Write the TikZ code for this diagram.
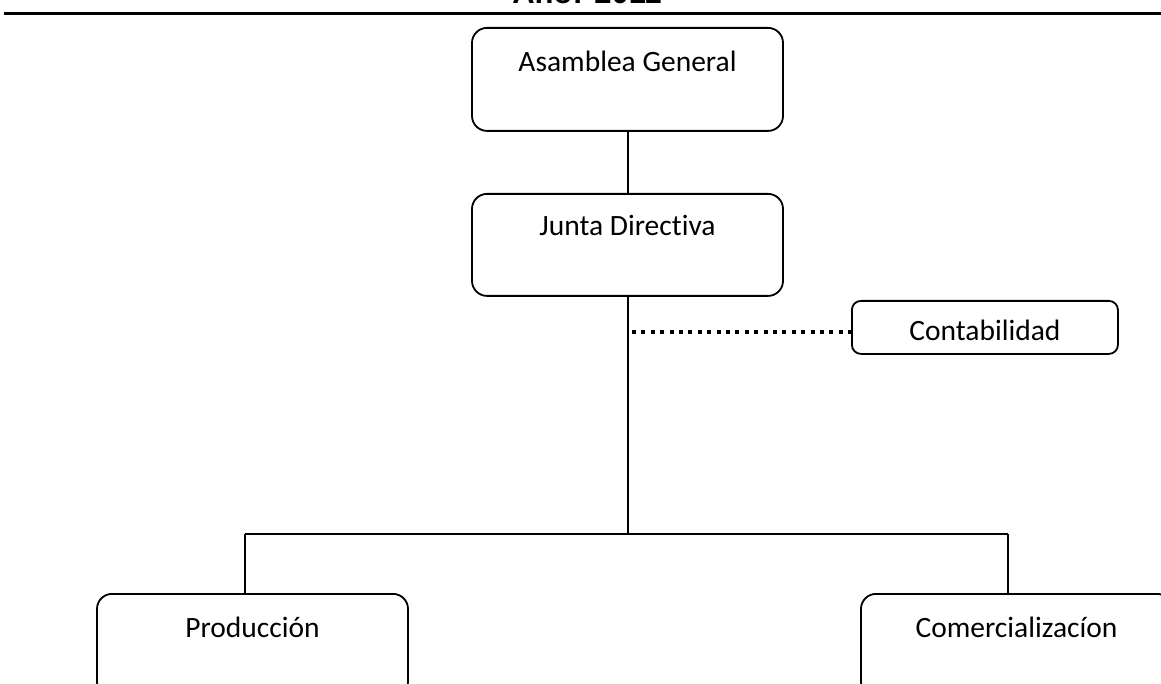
\documentclass[tikz,border=0pt]{standalone}
\usepackage{fontspec}
\setmainfont[Ligatures=NoCommon]{Carlito}
\newfontfamily\titlefont{Liberation Sans}
\begin{document}
\begin{tikzpicture}[x=1pt,y=1pt,
  bigbox/.style={draw, line width=1.8pt, rounded corners=15pt, inner sep=0pt,
    minimum width=311pt, text height=44pt, text depth=59pt, anchor=north,
    font=\fontsize{29.5}{35}\selectfont},
  smallbox/.style={draw, line width=1.8pt, rounded corners=9pt, inner sep=0pt,
    minimum width=266pt, text height=40pt, text depth=13pt, anchor=north west,
    font=\fontsize{29.5}{35}\selectfont},
  link/.style={line width=2pt},
  dotlink/.style={line width=3.8pt, dash pattern=on 4pt off 5.4pt}]
\useasboundingbox (0,0) rectangle (1161,-684);
% clipped title and rule
\node[anchor=base, inner sep=0pt, font=\titlefont\bfseries\fontsize{31}{37}\selectfont] (title) at (587,-4) {Año: 2011};
\draw[line width=2.2pt] (4,-13.5) -- (1161,-13.5);
% boxes
\node[bigbox] (asamblea) at (627.5,-27) {Asamblea General};
\node[bigbox, text height=42pt, text depth=60pt] (junta) at (627.5,-193) {Junta Directiva};
\node[smallbox] (conta) at (851,-300) {Contabilidad};
\node[bigbox] (prod) at (252.5,-593) {Producción};
\node[bigbox] (comer) at (1016.5,-593) {Comercializacíon};
% connectors
\coordinate (dotstart) at (632,-332);
\coordinate (bus) at (627.5,-534);
\coordinate (busL) at (245,-534);
\coordinate (busR) at (1008,-534);
\draw[link] (asamblea.south) -- (junta.north);
\draw[link] (junta.south) -- (bus);
\draw[link] (busL) -- (busR);
\draw[link] (busL) -- (busL |- prod.north);
\draw[link] (busR) -- (busR |- comer.north);
\draw[dotlink] (dotstart) -- (dotstart -| conta.west);
\end{tikzpicture}
\end{document}
